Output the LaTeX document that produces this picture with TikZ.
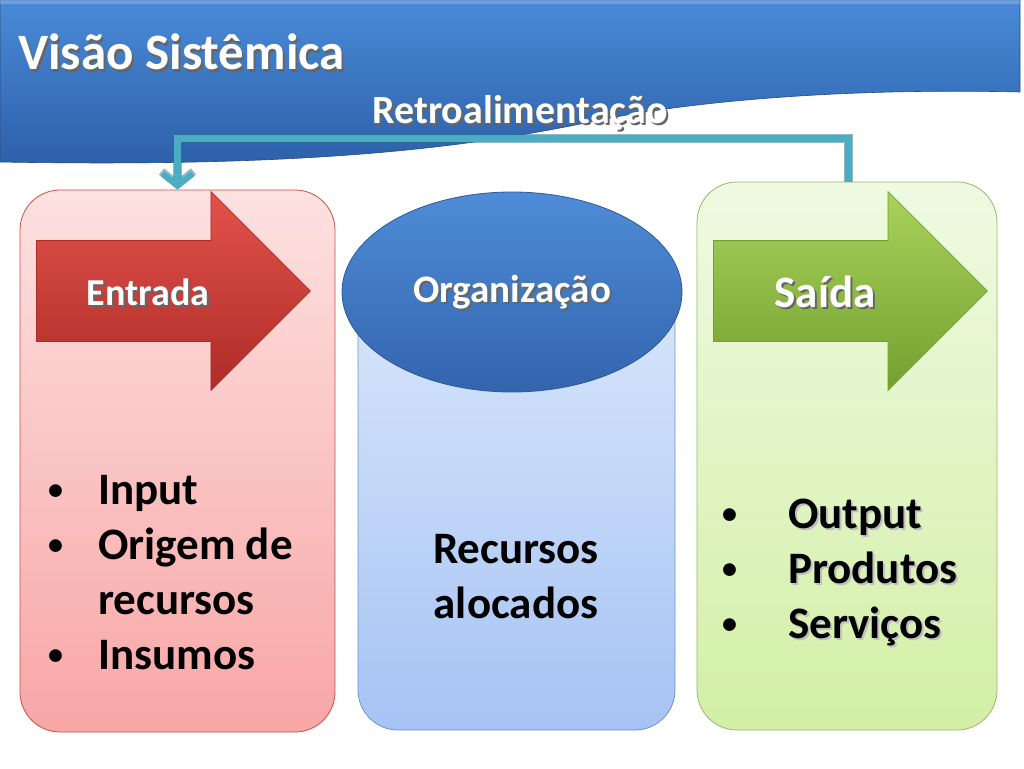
\documentclass[tikz,border=0pt]{standalone}
\usepackage{fontspec}
\setmainfont{Carlito}
\usetikzlibrary{shapes.geometric,shapes.arrows,arrows.meta,calc}
\definecolor{banTop}{HTML}{4A8AD8}
\definecolor{banBot}{HTML}{2C5FA8}
\definecolor{redTop}{HTML}{FDE1E1}
\definecolor{redBot}{HTML}{F8A6A6}
\definecolor{redLine}{HTML}{C9504C}
\definecolor{arrRTop}{HTML}{E3524B}
\definecolor{arrRBot}{HTML}{AE2C27}
\definecolor{bluTop}{HTML}{DDE9FC}
\definecolor{bluBot}{HTML}{A6C3F4}
\definecolor{bluLine}{HTML}{6F93CC}
\definecolor{ellTop}{HTML}{4F8CD7}
\definecolor{ellBot}{HTML}{3364AE}
\definecolor{ellLine}{HTML}{2D5A98}
\definecolor{grnTop}{HTML}{EFFAE2}
\definecolor{grnBot}{HTML}{D3EFA6}
\definecolor{grnLine}{HTML}{98B86A}
\definecolor{arrGTop}{HTML}{A8D25A}
\definecolor{arrGBot}{HTML}{73A030}
\definecolor{fbCol}{HTML}{4BACC6}
\definecolor{fbDark}{HTML}{2E6F82}
\newcommand{\shtext}[2][black!60]{\makebox[0pt][l]{\kern2pt\raisebox{-2pt}{\textcolor{#1}{#2}}}#2}
\newcommand{\sbul}{\raisebox{5pt}{\fontsize{30}{30}\selectfont •}}
\tikzset{
  panel/.style={draw, line width=0.8pt, rounded corners=40pt, inner sep=0pt},
  bigarrow/.style={single arrow, draw, line width=0.8pt, inner xsep=0pt, inner ysep=50pt,
     minimum height=274pt, minimum width=198pt,
     single arrow head extend=49pt, single arrow head indent=0pt, anchor=tail},
  wlabel/.style={text=white, font=\bfseries, inner sep=0pt},
  blabel/.style={text=black, font=\bfseries\fontsize{45}{55}\selectfont, inner sep=0pt},
  fb/.style={line width=7pt, color=fbCol, -{Straight Barb[length=12pt,width=30pt,line width=6pt]}},
}
\begin{document}
\begin{tikzpicture}[x=1pt,y=-1pt]
\useasboundingbox (0,0) rectangle (1024,768);
\fill[white] (0,0) rectangle (1024,768);
% banner
\shade[top color=banTop, bottom color=banBot, draw=banBot!80!black, line width=0.6pt]
  (0,0) -- (1020,0) -- (1020,92)
  .. controls (850,88) and (700,100) .. (600,120)
  .. controls (480,145) and (330,168) .. (0,162) -- cycle;
\fill[banTop!60!white, opacity=0.5] (0,0) rectangle (1020,4);
\node[wlabel, font=\bfseries\fontsize{51}{55}\selectfont, anchor=base west] (title) at (18,70) {\shtext{Visão Sistêmica}};
\node[wlabel, font=\bfseries\fontsize{40}{44}\selectfont, anchor=base] (retro) at (520,123) {\shtext{Retroalimentação}};
% panels
\node[panel, draw=redLine, top color=redTop, bottom color=redBot, minimum width=315pt, minimum height=542pt] (entradaBox) at (177.5,461) {};
\node[panel, draw=bluLine, top color=bluTop, bottom color=bluBot, minimum width=317pt, minimum height=480pt] (orgBox) at (516.5,490) {};
\node[panel, draw=grnLine, top color=grnTop, bottom color=grnBot, minimum width=300pt, minimum height=548pt] (saidaBox) at (847,456) {};
% arrows and ellipse
\node[bigarrow, draw=arrRBot, top color=arrRTop, bottom color=arrRBot] (entradaArrow) at (36,291) {};
\node[wlabel, font=\bfseries\fontsize{38}{40}\selectfont] (entradaTxt) at (148,293) {\shtext{Entrada}};
\node[ellipse, draw=ellLine, line width=0.8pt, top color=ellTop, bottom color=ellBot, minimum width=340pt, minimum height=200pt, inner sep=0pt] (org) at (512,292) {};
\node[wlabel, font=\bfseries\fontsize{39}{40}\selectfont] (orgTxt) at (512,293) {\shtext{Organização}};
\node[bigarrow, draw=arrGBot, top color=arrGTop, bottom color=arrGBot] (saidaArrow) at (713,291) {};
\node[wlabel, font=\bfseries\fontsize{45}{48}\selectfont] (saidaTxt) at (825,293) {\shtext{Saída}};
% lists
\node[blabel, anchor=base west] (entradaList) at (48,504) {%
  \begin{tabular}[t]{@{}p{50pt}@{}l@{}}
  \sbul & Input\\
  \sbul & Origem de\\
    & recursos\\
  \sbul & Insumos
  \end{tabular}};
\node[blabel, anchor=base] (orgList) at (516,563) {%
  \begin{tabular}[t]{@{}c@{}}
  Recursos\\
  alocados
  \end{tabular}};
\node[blabel, anchor=base west] (saidaList) at (722,528) {%
  \begin{tabular}[t]{@{}p{66pt}@{}l@{}}
  \sbul & \shtext[black!25]{Output}\\
  \sbul & \shtext[black!25]{Produtos}\\
  \sbul & \shtext[black!25]{Serviços}
  \end{tabular}};
% feedback connector
\coordinate (fbStart) at (saidaBox.north -| 848,0);
\coordinate (fbTop) at (500,138);
\draw[fb, draw=fbDark, line width=9pt, -{Straight Barb[length=13pt,width=32pt,line width=8pt]}, opacity=0.5, shift={(1.5,1.5)}] (fbStart) |- (fbTop) -| (entradaBox.north);
\draw[fb] (fbStart) |- (fbTop) -| (entradaBox.north);
\end{tikzpicture}
\end{document}
